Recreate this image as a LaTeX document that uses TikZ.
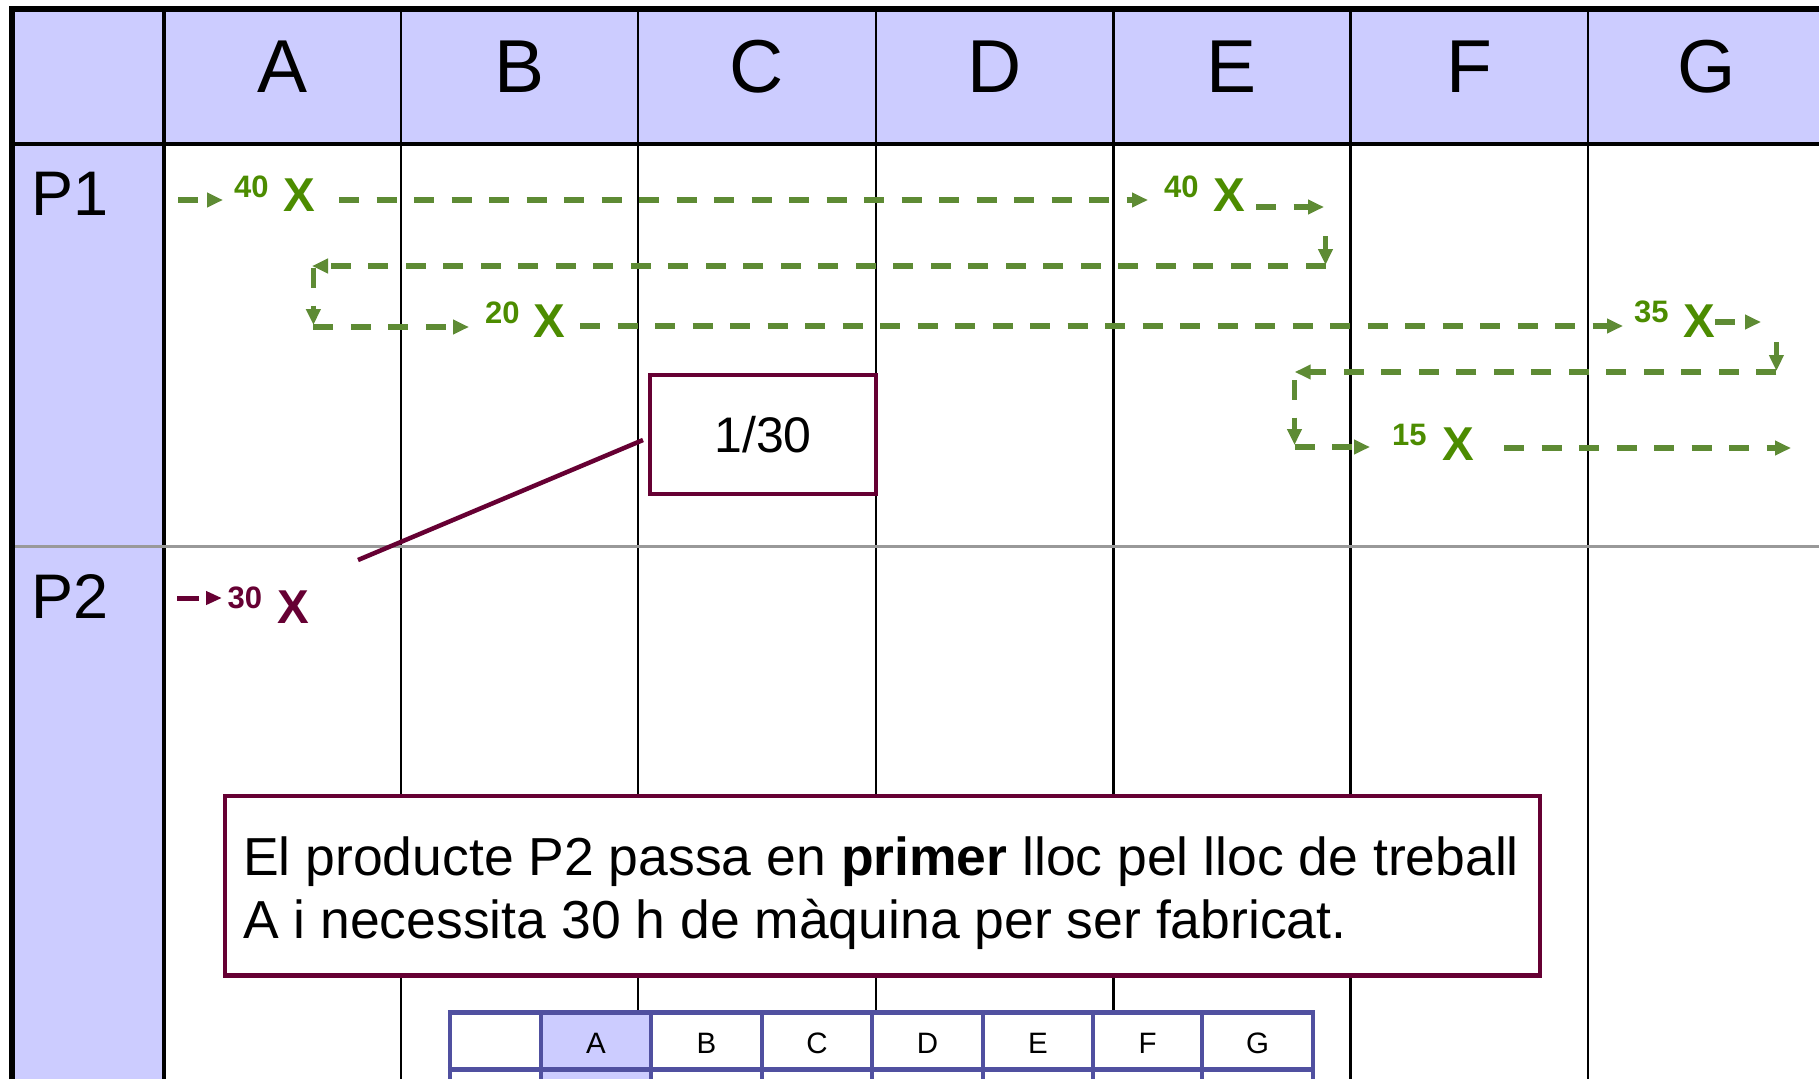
\documentclass[tikz,border=0pt]{standalone}
\usepackage{fontspec}
\setmainfont{Liberation Sans}
\usetikzlibrary{arrows.meta}
\definecolor{lav}{RGB}{204,204,255}
\definecolor{maroonc}{RGB}{102,0,51}
\definecolor{gdash}{RGB}{94,139,52}
\definecolor{gtext}{RGB}{76,140,0}
\definecolor{tblue}{RGB}{80,80,160}
\definecolor{sepgray}{RGB}{153,153,153}
\tikzset{
  hdr/.style={font=\fontsize{75}{75}\selectfont, anchor=base, inner sep=0pt},
  prow/.style={font=\fontsize{63}{63}\selectfont, anchor=base west, inner sep=0pt},
  qty/.style={font=\bfseries\fontsize{31}{31}\selectfont, anchor=base west, inner sep=0pt},
  xmark/.style={font=\bfseries\fontsize{47.5}{47.5}\selectfont, anchor=base west, inner sep=0pt},
  flow/.style={draw=gdash, line width=5.5pt, dash pattern=on 20pt off 17.5pt, -{Triangle[length=16pt,width=14pt]}},
  mflow/.style={draw=maroonc, line width=5pt, dash pattern=on 22pt off 8pt, -{Triangle[length=16pt,width=13pt]}},
  gridline/.style={draw=black, line width=2.5pt},
  callbox/.style={draw=maroonc, line width=4.5pt, fill=white},
  expltext/.style={anchor=base west, inner sep=0pt, font=\fontsize{53.5}{63}\selectfont},
  mini/.style={font=\fontsize{29.5}{29.5}\selectfont, anchor=base, inner sep=0pt},
}
\begin{document}
\begin{tikzpicture}[x=1pt,y=-1pt]
\useasboundingbox (0,0) rectangle (1819,1079);
\clip (0,0) rectangle (1819,1079);
\fill[white] (0,0) rectangle (1819,1079);
% fills
\fill[lav] (12,9) rectangle (1819,144);
\fill[lav] (12,144) rectangle (164,1079);
% column lines
\foreach \cx in {401,638.2,875.9,1113.4,1350.4,1588}
  \draw[gridline] (\cx,9) -- (\cx,1079);
\draw[black, line width=3.5pt] (164,9) -- (164,1079);
% separators
\draw[sepgray, line width=3pt] (12,546) -- (1819,546);
\draw[black, line width=3.5pt] (12,144) -- (1819,144);
% outer border
\draw[black, line width=5.5pt] (12,1079) -- (12,9) -- (1819,9);
% header letters
\node[hdr] (hA) at (282.3,92) {A};
\node[hdr] (hB) at (519.6,92) {B};
\node[hdr] (hC) at (757,92) {C};
\node[hdr] (hD) at (994.6,92) {D};
\node[hdr] (hE) at (1231.9,92) {E};
\node[hdr] (hF) at (1469.2,92) {F};
\node[hdr] (hG) at (1706.4,92) {G};
\node[prow] (p1) at (31,215) {P1};
\node[prow] (p2) at (31,618) {P2};
% P1 quantities
\node[qty, text=gtext] (q1) at (234,197) {40};
\node[xmark, text=gtext] (x1) at (283,211) {X};
\node[qty, text=gtext] (q2) at (1164,197) {40};
\node[xmark, text=gtext] (x2) at (1213.5,211) {X};
\node[qty, text=gtext] (q3) at (485,323) {20};
\node[xmark, text=gtext] (x3) at (533.5,337) {X};
\node[qty, text=gtext] (q4) at (1634,322) {35};
\node[xmark, text=gtext] (x4) at (1683,337) {X};
\node[qty, text=gtext] (q5) at (1392,445) {15};
\node[xmark, text=gtext] (x5) at (1442.5,460) {X};
% P2 quantity
\node[qty, text=maroonc] (q6) at (227.5,608) {30};
\node[xmark, text=maroonc] (x6) at (277,623) {X};
% flow coordinates
\coordinate (g1s) at (178,200);   \coordinate (g1e) at (223,200);
\coordinate (g2s) at (339,200);   \coordinate (g2e) at (1148,200);
\coordinate (g3s) at (1256,207);  \coordinate (g3e) at (1324,207);
\coordinate (g4s) at (1325.5,236);\coordinate (g4e) at (1325.5,265);
\coordinate (g5s) at (1325.5,266);\coordinate (g5e) at (312,266);
\coordinate (g6s) at (313.4,268); \coordinate (g6e) at (313.4,325);
\coordinate (g7s) at (313.4,327); \coordinate (g7e) at (469,327);
\coordinate (g8s) at (580,326);   \coordinate (g8e) at (1623,326);
\coordinate (g9s) at (1715,322);  \coordinate (g9e) at (1761,322);
\coordinate (g10s) at (1776.4,342); \coordinate (g10e) at (1776.4,371);
\coordinate (g11s) at (1776.4,372); \coordinate (g11e) at (1294.7,372);
\coordinate (g12s) at (1294.5,380); \coordinate (g12e) at (1294.5,445);
\coordinate (g13s) at (1294.5,447); \coordinate (g13e) at (1370,447);
\coordinate (g14s) at (1504,448);   \coordinate (g14e) at (1791,448);
\coordinate (m1s) at (177,598);     \coordinate (m1e) at (222,598);
\foreach \a in {1,...,14} \draw[flow] (g\a s) -- (g\a e);
\draw[mflow] (m1s) -- (m1e);
% 1/30 box and callout
\node[callbox, minimum width=226pt, minimum height=119pt, inner sep=0pt,
      font=\fontsize{50}{50}\selectfont] (frac) at (763,434.5) {1/30};
\coordinate (callA) at (643,440);
\coordinate (callB) at (358,560);
\draw[maroonc, line width=4.5pt] (callA) -- (callB);
% explanation box
\draw[callbox] (225,796) rectangle (1540,975.5);
\node[expltext] (expl1) at (243,875)
  {El producte P2 passa en \textbf{primer} lloc pel lloc de treball};
\node[expltext] (expl2) at (243,938)
  {A i necessita 30 h de màquina per ser fabricat.};
% mini table
\fill[white] (450,1010) rectangle (1313,1079);
\fill[lav] (540.8,1012) rectangle (651,1079);
\foreach \mx in {450,540.8,651,761.8,872,982.8,1093,1202,1313}
  \draw[tblue, line width=4.5pt] (\mx,1010) -- (\mx,1079);
\draw[tblue, line width=5pt] (447.75,1012.5) -- (1315.25,1012.5);
\draw[tblue, line width=5pt] (447.75,1069.5) -- (1315.25,1069.5);
\node[mini] (mA) at (595.9,1053) {A};
\node[mini] (mB) at (706.4,1053) {B};
\node[mini] (mC) at (816.9,1053) {C};
\node[mini] (mD) at (927.4,1053) {D};
\node[mini] (mE) at (1037.9,1053) {E};
\node[mini] (mF) at (1147.5,1053) {F};
\node[mini] (mG) at (1257.5,1053) {G};
\end{tikzpicture}
\end{document}
